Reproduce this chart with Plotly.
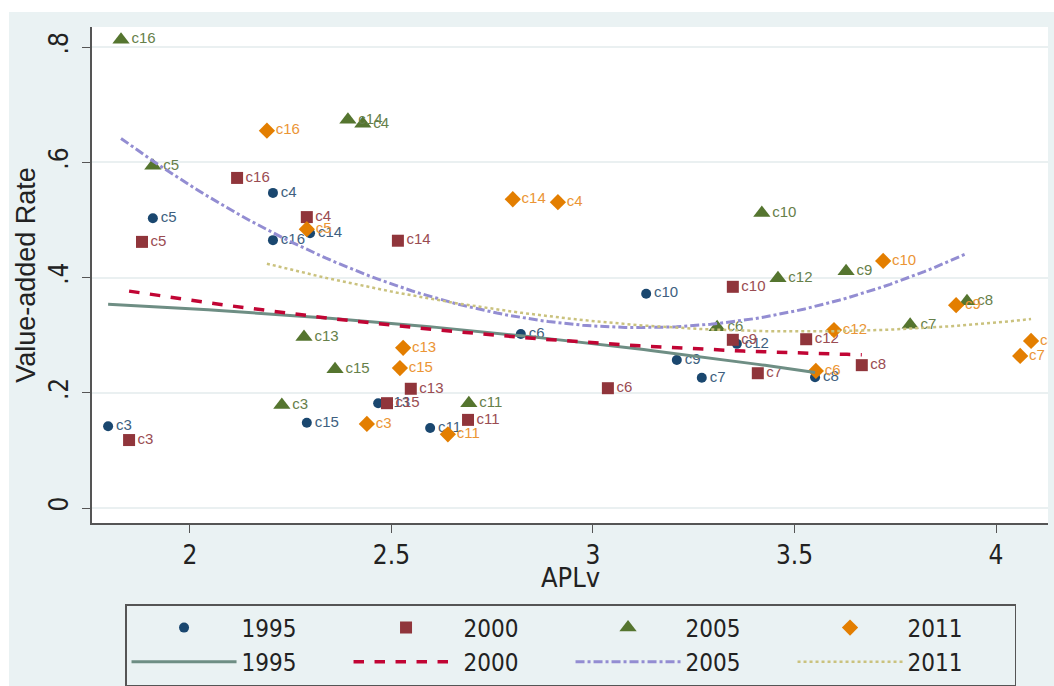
import numpy as np
import plotly.graph_objects as go

# ---------------- data ----------------
years = ["1995", "2000", "2005", "2011"]

labels_1995 = ["c3", "c5", "c4", "c16", "c15", "c13", "c11", "c6", "c10", "c9", "c7", "c12", "c8", "c14"]
x_1995 = [1.797, 1.908, 2.206, 2.206, 2.290, 2.467, 2.596, 2.821, 3.132, 3.208, 3.270, 3.357, 3.551, 2.298]
y_1995 = [0.142, 0.503, 0.547, 0.465, 0.148, 0.182, 0.139, 0.302, 0.372, 0.257, 0.226, 0.285, 0.227, 0.477]

labels_2000 = ["c3", "c5", "c16", "c4", "c14", "c13", "c15", "c11", "c6", "c10", "c9", "c7", "c12", "c8"]
x_2000 = [1.849, 1.881, 2.117, 2.290, 2.516, 2.548, 2.489, 2.690, 3.037, 3.347, 3.347, 3.409, 3.529, 3.667]
y_2000 = [0.118, 0.462, 0.573, 0.505, 0.464, 0.207, 0.182, 0.153, 0.208, 0.384, 0.292, 0.234, 0.293, 0.248]

labels_2005 = ["c16", "c5", "c14", "c4", "c13", "c15", "c3", "c11", "c10", "c12", "c9", "c7", "c8", "c6"]
x_2005 = [1.829, 1.908, 2.392, 2.429, 2.283, 2.360, 2.228, 2.692, 3.419, 3.459, 3.628, 3.787, 3.928, 3.308]
y_2005 = [0.813, 0.594, 0.674, 0.667, 0.297, 0.241, 0.179, 0.182, 0.512, 0.399, 0.411, 0.318, 0.359, 0.314]

labels_2011 = ["c16", "c5", "c14", "c4", "c13", "c15", "c3", "c11", "c10", "c12", "c6", "c9", "c8", "c7"]
x_2011 = [2.191, 2.290, 2.801, 2.913, 2.529, 2.521, 2.439, 2.640, 3.720, 3.598, 3.553, 3.901, 4.087, 4.060]
y_2011 = [0.655, 0.484, 0.536, 0.531, 0.278, 0.243, 0.146, 0.128, 0.429, 0.309, 0.238, 0.352, 0.290, 0.264]

x_ticks = [2, 2.5, 3, 3.5, 4]
x_ticktext = ["2", "2.5", "3", "3.5", "4"]
y_ticks = [0, 0.2, 0.4, 0.6, 0.8]
y_ticktext = ["0", ".2", ".4", ".6", ".8"]

# ---------------- styles ----------------
marker_colors = ["#1a476f", "#90353b", "#55752f", "#e37e00"]
label_colors = ["#3e5f80", "#9a4c52", "#66804a", "#eb9535"]
marker_symbols = ["circle", "square", "triangle-up", "diamond"]
marker_sizes = [10, 12, 15, 12.5]
line_colors = ["#6e8e84", "#c10534", "#938dd2", "#cac27e"]
line_dashes = ["solid", "dash", "dashdot", "dot"]
line_widths = [3, 3.5, 3, 2.5]

BG = "#eaf2f3"
FONT = "Liberation Sans Narrow, Arial Narrow, DejaVu Sans Condensed, Liberation Sans, sans-serif"
LFONT = "Liberation Sans, Arial, sans-serif"

series = [
    (x_1995, y_1995, labels_1995),
    (x_2000, y_2000, labels_2000),
    (x_2005, y_2005, labels_2005),
    (x_2011, y_2011, labels_2011),
]

fig = go.Figure()

for i, (xs, ys, labs) in enumerate(series):
    fig.add_trace(go.Scatter(
        x=xs, y=ys, mode="markers", name=years[i],
        marker=dict(symbol=marker_symbols[i], size=marker_sizes[i],
                    color=marker_colors[i], line=dict(width=0)),
    ))
    # marker labels (invisible markers so the text keeps its offset from the symbol)
    fig.add_trace(go.Scatter(
        x=xs, y=ys, mode="markers+text", text=labs, textposition="middle right",
        marker=dict(size=max(marker_sizes[i], 11), color="rgba(0,0,0,0)"),
        textfont=dict(family=LFONT, size=15, color=label_colors[i]),
        showlegend=False, hoverinfo="skip",
    ))

# quadratic fit lines (Stata qfit) computed from each year's points
for i, (xs, ys, labs) in enumerate(series):
    xa = np.array(xs)
    ya = np.array(ys)
    coef = np.polyfit(xa, ya, 2)
    xf = np.linspace(xa.min(), xa.max(), 100)
    yf = np.polyval(coef, xf)
    fig.add_trace(go.Scatter(
        x=xf, y=yf, mode="lines", name=years[i],
        line=dict(color=line_colors[i], dash=line_dashes[i], width=line_widths[i]),
    ))

fig.update_layout(
    width=1054, height=686,
    margin=dict(l=92, r=6, t=27, b=163, autoexpand=False),
    paper_bgcolor="white",
    plot_bgcolor="white",
    showlegend=True,
    shapes=[
        dict(type="rect", xref="paper", yref="paper", x0=-0.0868, x1=1.02,
             y0=-0.34, y1=1.030, fillcolor=BG, line=dict(width=0), layer="below"),
        dict(type="rect", xref="paper", yref="paper", x0=0, x1=1,
             y0=0, y1=1, fillcolor="white", line=dict(width=0), layer="below"),
    ],
    annotations=[
        dict(text="APLv", xref="paper", yref="paper", x=0.5, y=-0.109,
             xanchor="center", yanchor="middle", showarrow=False,
             font=dict(family=FONT, size=27, color="#222222")),
    ],
    xaxis=dict(
        range=[1.757, 4.129], tickvals=x_ticks, ticktext=x_ticktext,
        showgrid=False, zeroline=False, showline=True, linecolor="#555555", linewidth=1.5,
        ticks="outside", ticklen=8, tickwidth=1.2, tickcolor="#555555",
        ticklabelstandoff=0, automargin=False,
        tickfont=dict(family=FONT, size=26, color="#222222"),
    ),
    yaxis=dict(
        range=[-0.026, 0.835], tickvals=y_ticks, ticktext=y_ticktext,
        showgrid=True, gridcolor="#eaf0f1", gridwidth=1.5, zeroline=False,
        showline=True, linecolor="#555555", linewidth=1.5,
        ticks="outside", ticklen=8, tickwidth=1.2, tickcolor="#555555",
        tickangle=-90, ticklabelstandoff=4, automargin=False,
        tickfont=dict(family=FONT, size=26, color="#222222"),
        title=dict(text="Value-added Rate", font=dict(family=LFONT, size=27, color="#222222"), standoff=0),
    ),
    legend=dict(
        orientation="h", xref="container", yref="container",
        x=0.5413, xanchor="center", y=0.1195, yanchor="top",
        bgcolor=BG, bordercolor="#555555", borderwidth=1.5,
        font=dict(family=FONT, size=24, color="#222222"),
        itemwidth=105, entrywidth=102, entrywidthmode="pixels",
        traceorder="normal", tracegroupgap=0,
    ),
)

fig.write_html("out.html", config={"displayModeBar": False},
               post_script="document.body.style.margin='0';document.body.style.overflow='hidden';")
